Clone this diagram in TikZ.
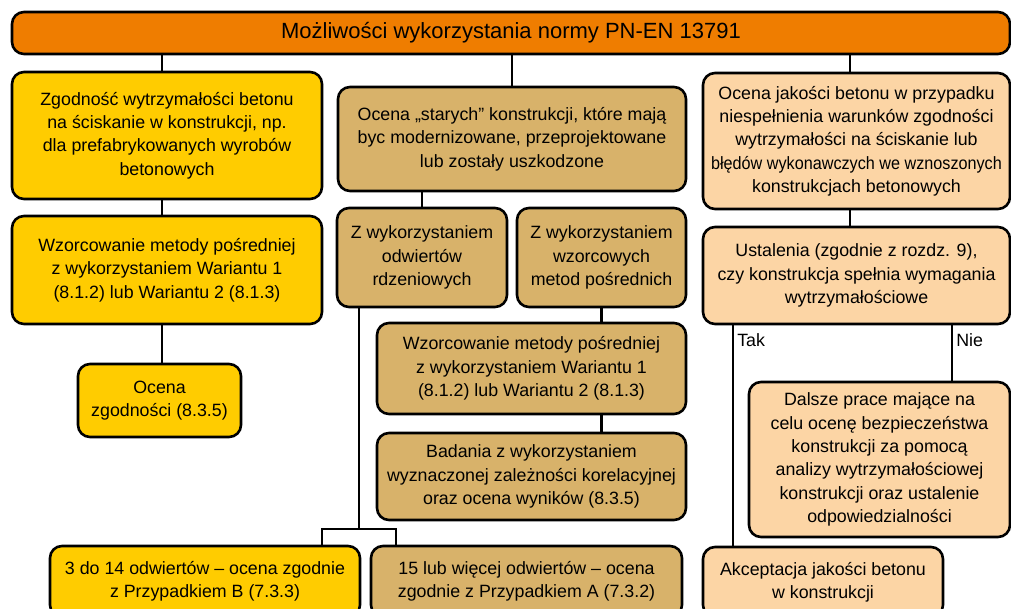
\documentclass[tikz,border=0pt]{standalone}
\usepackage{fontspec}
\setmainfont{Liberation Sans}
\definecolor{pomarancz}{RGB}{239,125,0}
\definecolor{zolty}{RGB}{255,204,0}
\definecolor{bez}{RGB}{216,178,106}
\definecolor{brzoskwinia}{RGB}{252,213,165}

\begin{document}
\begin{tikzpicture}[x=1pt,y=-1pt,line width=2.6pt,
	box/.style={draw,rounded corners=12pt,inner sep=0pt,align=center,
		font=\fontsize{17.8}{23.3}\selectfont},
	top/.style={box,fill=pomarancz,font=\fontsize{22}{25}\selectfont},
	zol/.style={box,fill=zolty},
	bez/.style={box,fill=bez},
	jas/.style={box,fill=brzoskwinia}]
\useasboundingbox (0,0) rectangle (1011,609);
\clip (0,0) rectangle (1011,609);

\node[top,minimum width=998pt,minimum height=42pt] (tytul) at (511,33)
	{Możliwości wykorzystania normy PN-EN 13791};

% lewa kolumna
\node[zol,minimum width=310pt,minimum height=127pt] (zgodnosc) at (167,135.5)
	{Zgodność wytrzymałości betonu\\na ściskanie w konstrukcji, np.\\dla prefabrykowanych wyrobów\\betonowych};
\node[zol,minimum width=310pt,minimum height=108pt] (wzorA) at (167,270)
	{Wzorcowanie metody pośredniej\\z wykorzystaniem Wariantu 1\\(8.1.2) lub Wariantu 2 (8.1.3)};
\node[zol,minimum width=163pt,minimum height=73pt] (ocenaZ) at (159.5,400.5)
	{Ocena\\zgodności (8.3.5)};
\node[zol,minimum width=310pt,minimum height=71pt] (odw314) at (205,581.5)
	{3 do 14 odwiertów – ocena zgodnie\\z Przypadkiem B (7.3.3)};

% srodkowa kolumna
\node[bez,minimum width=348pt,minimum height=104pt] (stare) at (512,139)
	{Ocena „starych” konstrukcji, które mają\\byc modernizowane, przeprojektowane\\lub zostały uszkodzone};
\node[bez,minimum width=170pt,minimum height=99pt] (rdzenie) at (422,257.5)
	{Z wykorzystaniem\\odwiertów\\rdzeniowych};
\node[bez,minimum width=169pt,minimum height=99pt] (metody) at (601.5,257.5)
	{Z wykorzystaniem\\wzorcowych\\metod pośrednich};
\node[bez,minimum width=309pt,minimum height=91pt] (wzorB) at (531.5,368.5)
	{Wzorcowanie metody pośredniej\\z wykorzystaniem Wariantu 1\\(8.1.2) lub Wariantu 2 (8.1.3)};
\node[bez,minimum width=309pt,minimum height=87pt] (badania) at (531.5,476.5)
	{Badania z wykorzystaniem\\wyznaczonej zależności korelacyjnej\\oraz ocena wyników (8.3.5)};
\node[bez,minimum width=311pt,minimum height=71pt] (odw15) at (526.5,581.5)
	{15 lub więcej odwiertów – ocena\\zgodnie z Przypadkiem A (7.3.2)};

% prawa kolumna
\node[jas,minimum width=307pt,minimum height=136pt] (jakosc) at (856.5,141)
	{Ocena jakości betonu w przypadku\\niespełnienia warunków zgodności\\wytrzymałości na ściskanie lub\\\scalebox{0.91}[1]{błędów wykonawczych we wznoszonych}\\konstrukcjach betonowych};
\node[jas,minimum width=307pt,minimum height=97pt] (ustalenia) at (856.5,275.5)
	{Ustalenia (zgodnie z rozdz. 9),\\czy konstrukcja spełnia wymagania\\wytrzymałościowe};
\node[jas,minimum width=261pt,minimum height=155pt] (dalsze) at (879.5,459.5)
	{Dalsze prace mające na\\celu ocenę bezpieczeństwa\\konstrukcji za pomocą\\analizy wytrzymałościowej\\konstrukcji oraz ustalenie\\odpowiedzialności};
\node[jas,minimum width=240pt,minimum height=70pt] (akceptacja) at (823,582)
	{Akceptacja jakości betonu\\w konstrukcji};

% polaczenia
\draw ([xshift=-5pt]zgodnosc.north |- tytul.south) -- ([xshift=-5pt]zgodnosc.north);
\draw (stare.north |- tytul.south) -- (stare.north);
\draw ([xshift=-6.5pt]jakosc.north |- tytul.south) -- ([xshift=-6.5pt]jakosc.north);
\draw ([xshift=-5pt]zgodnosc.south) -- ([xshift=-5pt]wzorA.north);
\draw ([xshift=-5pt]wzorA.south) -- ([xshift=2.5pt]ocenaZ.north);
\draw (rdzenie.north |- stare.south) -- (rdzenie.north);
\draw (metody.south) -- (metody.south |- wzorB.north);
\draw (metody.south |- wzorB.south) -- (metody.south |- badania.north);
\draw ([xshift=-6.5pt]jakosc.south) -- ([xshift=-6.5pt]ustalenia.north);

\coordinate (rozgal) at (359,529);
\coordinate (lewy) at (322,529);
\coordinate (prawy) at (396,529);
\draw (rozgal |- rdzenie.south) -- (rozgal);
\draw (lewy |- odw314.north) -- (lewy) -- (prawy) -- (prawy |- odw15.north);

\coordinate (tak) at (733,340);
\coordinate (nie) at (952,340);
\draw (tak |- ustalenia.south) -- (tak |- akceptacja.north);
\draw (nie |- ustalenia.south) -- (nie |- dalsze.north);
\node[anchor=west,inner sep=3pt,font=\fontsize{17.8}{20}\selectfont] (takL) at (tak) {Tak};
\node[anchor=west,inner sep=3pt,font=\fontsize{17.8}{20}\selectfont] (nieL) at (nie) {Nie};
\end{tikzpicture}
\end{document}
